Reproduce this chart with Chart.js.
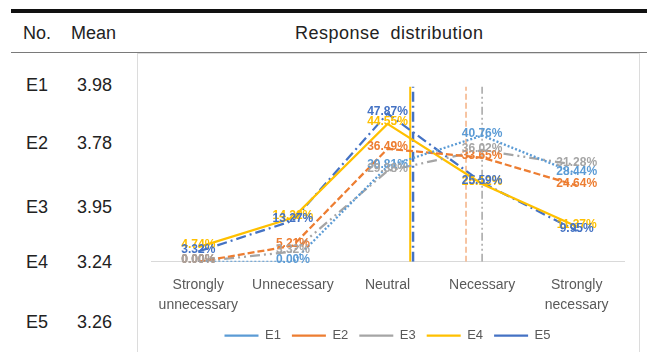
<!DOCTYPE html>
<html>
<head>
<meta charset="utf-8">
<script src="https://cdn.jsdelivr.net/npm/chart.js@4.4.1/dist/chart.umd.min.js"></script>
<style>
  body { margin:0; width:647px; height:352px; overflow:hidden; background:#fff; position:relative;
         font-family:"Liberation Sans", Arial, sans-serif; color:#222; }
  .ustCizgi { position:absolute; left:11px; top:9px; width:636px; height:4px; background:#111; }
  .altCizgi { position:absolute; left:11px; top:52px; width:636px; height:1px; background:#7a7a7a; }
  .baslik { position:absolute; top:22px; font-size:18px; line-height:22px; }
  .hucre { position:absolute; font-size:18px; line-height:22px; }
  .cerceve { position:absolute; left:137px; top:53px; width:501px; height:320px; border:1px solid #dcdcdc; }
  #grafik { position:absolute; left:0; top:0; }
</style>
</head>
<body>
<div class="ustCizgi"></div>
<div class="baslik" style="left:23px">No.</div>
<div class="baslik" style="left:71px">Mean</div>
<div class="baslik" style="left:295px;letter-spacing:0.5px;word-spacing:5px">Response distribution</div>
<div class="altCizgi"></div>
<div id="satirlar"></div>
<div class="cerceve"><canvas id="grafik" width="501" height="298"></canvas></div>

<script>
/*VERILER*/
var kategoriler = [["Strongly", "unnecessary"], "Unnecessary", "Neutral", "Necessary", ["Strongly", "necessary"]];
var seriAdlari = ["E1", "E2", "E3", "E4", "E5"];
var ortalamalar = ["3.98", "3.78", "3.95", "3.24", "3.26"];
var e1 = [0.00, 0.00, 30.81, 40.76, 28.44];
var e2 = [0.00, 5.21, 36.49, 33.65, 24.64];
var e3 = [0.00, 3.32, 29.38, 36.02, 31.28];
var e4 = [4.74, 14.22, 44.55, 25.12, 11.37];
var e5 = [3.32, 13.27, 47.87, 25.59, 9.95];
// stray vertical lines in the original (x in category units, y in %)
var dikeyX = [2.24, 2.27, 2.83, 3.0];
var dikeyUst = [56.5, 56.5, 56.5, 56.5];
/*VERILER*/

var renkler = ["#5B9BD5", "#ED7D31", "#A5A5A5", "#FFC000", "#4472C4"];
var cizgiTipleri = [[2, 2], [7, 3], [10, 4, 2, 4, 2, 4], [], [10, 4, 2, 4]];
var seriler = [e1, e2, e3, e4, e5];

/*SOL SUTUN*/
var satirY = [74, 132, 196, 251, 311];
var html = "";
for (var i = 0; i < seriAdlari.length; i++) {
  html += "<div class='hucre' style='left:26px;top:" + satirY[i] + "px'>" + seriAdlari[i] + "</div>";
  html += "<div class='hucre' style='left:77px;top:" + satirY[i] + "px'>" + ortalamalar[i] + "</div>";
}
document.getElementById("satirlar").innerHTML = html;

/*DATASETLER*/
var datasetler = [];
for (var i = 0; i < seriler.length; i++) {
  var noktalar = [];
  for (var j = 0; j < seriler[i].length; j++) {
    noktalar.push({ x: j, y: seriler[i][j] });
  }
  datasetler.push({
    label: seriAdlari[i],
    data: noktalar,
    borderColor: renkler[i],
    backgroundColor: renkler[i],
    borderWidth: 2.25,
    borderDash: cizgiTipleri[i],
    pointRadius: 0,
    tension: 0
  });
}
var dikeyRenk = ["#FFC000", "#4472C4", "#F4B183", "#A5A5A5"];
var dikeyTip = [[], [10, 4, 2, 4], [6, 3], [8, 3, 2, 3, 2, 3]];
var dikeyKalinlik = [2, 2.5, 1.5, 1.5];
for (var k = 0; k < dikeyX.length; k++) {
  datasetler.push({
    label: "v" + k,
    data: [{ x: dikeyX[k], y: 0 }, { x: dikeyX[k], y: dikeyUst[k] }],
    borderColor: dikeyRenk[k],
    borderWidth: dikeyKalinlik[k],
    borderDash: dikeyTip[k],
    pointRadius: 0
  });
}

/*ETIKET EKLENTISI*/
var etiketEklentisi = {
  id: "etiketler",
  afterDatasetsDraw: function (chart) {
    var ctx = chart.ctx;
    ctx.save();
    ctx.font = "bold 12px 'Liberation Sans', Arial, sans-serif";
    ctx.textAlign = "center";
    ctx.textBaseline = "middle";
    for (var i = 0; i < seriler.length; i++) {
      var meta = chart.getDatasetMeta(i);
      ctx.fillStyle = renkler[i];
      for (var j = 0; j < meta.data.length; j++) {
        ctx.fillText(seriler[i][j].toFixed(2) + "%", meta.data[j].x, meta.data[j].y - 2);
      }
    }
    ctx.restore();
  }
};

var grafik = new Chart(document.getElementById("grafik"), {
  type: "line",
  data: { datasets: datasetler },
  plugins: [etiketEklentisi],
  options: {
    responsive: false,
    animation: false,
    layout: { padding: { left: 13, right: 15, top: 22, bottom: 0 } },
    plugins: {
      tooltip: { enabled: false },
      legend: {
        position: "bottom",
        labels: {
          filter: function (item) { return item.datasetIndex < 5; },
          usePointStyle: true,
          pointStyle: "line",
          pointStyleWidth: 34,
          padding: 11,
          color: "#595959",
          font: { size: 13, family: "'Liberation Sans', Arial, sans-serif" }
        }
      }
    },
    scales: {
      x: {
        type: "linear",
        min: -0.5,
        max: 4.5,
        afterBuildTicks: function (eksen) {
          eksen.ticks = kategoriler.map(function (k, i) { return { value: i }; });
        },
        afterFit: function (eksen) {
          eksen.height = eksen.height - 11;
        },
        grid: { display: false, drawTicks: false },
        border: { color: "#d9d9d9", width: 1 },
        ticks: {
          padding: 14,
          color: "#595959",
          maxRotation: 0,
          autoSkip: false,
          font: { size: 14, family: "'Liberation Sans', Arial, sans-serif", lineHeight: 1.4 },
          callback: function (deger) { return kategoriler[deger]; }
        }
      },
      y: { display: false, min: 0, max: 60 }
    }
  }
});
</script>
</body>
</html>
